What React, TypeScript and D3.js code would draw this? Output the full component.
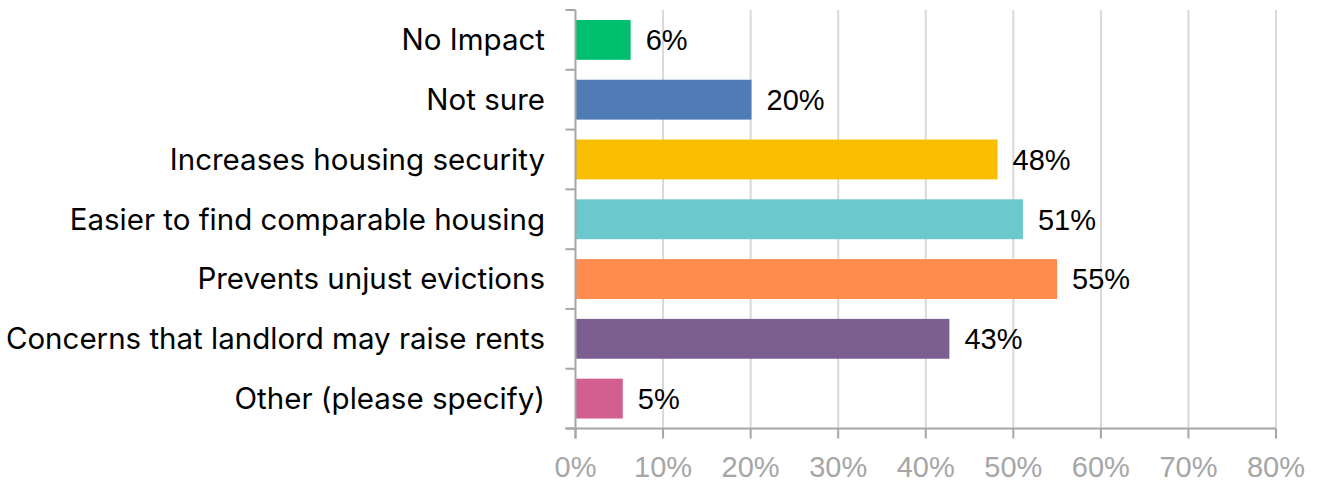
import React from "react";
import * as d3 from "d3";

const categories = [
  "No Impact",
  "Not sure",
  "Increases housing security",
  "Easier to find comparable housing",
  "Prevents unjust evictions",
  "Concerns that landlord may raise rents",
  "Other (please specify)",
];
const values = [6.3, 20.1, 48.2, 51.1, 55.0, 42.7, 5.4];
const labels = ["6%", "20%", "48%", "51%", "55%", "43%", "5%"];
const colors = ["#00BF6F", "#507CB6", "#F9BE00", "#6BC8CD", "#FF8B4F", "#7D5E90", "#D25F90"];
const ticks = [0, 10, 20, 30, 40, 50, 60, 70, 80];

const W = 1317;
const H = 482;
const left = 575.5;
const right = 1276;
const top = 10;
const bottom = 428.5;

export default function App() {
  const x = d3.scaleLinear().domain([0, 80]).range([left, right]);
  const y = d3.scaleBand<string>().domain(categories).range([top, bottom]).paddingInner(1 / 3).paddingOuter(1 / 6);
  const step = y.step();
  return (
    <svg width={W} height={H} style={{ position: "absolute", left: 0, top: 0, background: "#fff" }}>
      {ticks.slice(1).map((t) => (
        <line key={"g" + t} x1={x(t)} x2={x(t)} y1={top} y2={bottom} stroke="#D9D9D9" strokeWidth={2} />
      ))}
      {categories.map((c, i) => (
        <rect key={c} x={x(0)} y={y(c)} width={x(values[i]) - x(0)} height={y.bandwidth()} fill={colors[i]} />
      ))}
      <line x1={left} x2={left} y1={top} y2={bottom + 10} stroke="#A6A6A6" strokeWidth={2} />
      <line x1={left - 10} x2={right} y1={bottom} y2={bottom} stroke="#A6A6A6" strokeWidth={2} />
      {d3.range(categories.length + 1).map((i) => (
        <line key={"yt" + i} x1={left - 10} x2={left} y1={top + i * step} y2={top + i * step} stroke="#A6A6A6" strokeWidth={2} />
      ))}
      {ticks.map((t) => (
        <line key={"xt" + t} x1={x(t)} x2={x(t)} y1={bottom} y2={bottom + 10} stroke="#A6A6A6" strokeWidth={2} />
      ))}
      {ticks.map((t) => (
        <text key={"xl" + t} x={x(t)} y={477} textAnchor="middle" fontFamily="Liberation Sans, Arial, sans-serif" fontSize={29} fill="#A6A6A6">
          {t + "%"}
        </text>
      ))}
      {categories.map((c, i) => (
        <text key={"cl" + c} x={545} y={(y(c) as number) + y.bandwidth() / 2} dy="0.35em" textAnchor="end" fontFamily="Inter, 'Noto Sans', sans-serif" fontSize={29.5} fill="#000">
          {c}
        </text>
      ))}
      {categories.map((c, i) => (
        <text key={"vl" + c} x={x(values[i]) + 15} y={(y(c) as number) + y.bandwidth() / 2} dy="0.36em" fontFamily="Liberation Sans, Arial, sans-serif" fontSize={29} fill="#000">
          {labels[i]}
        </text>
      ))}
    </svg>
  );
}
